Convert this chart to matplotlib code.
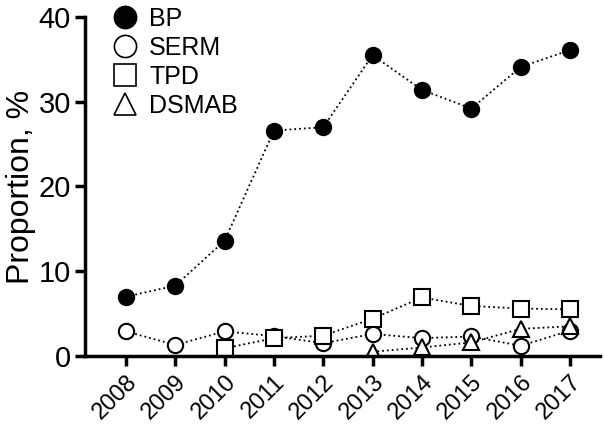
import matplotlib
matplotlib.use("Agg")
import matplotlib.pyplot as plt

plt.rcParams['font.family'] = ['Liberation Sans', 'DejaVu Sans']

years = [2008, 2009, 2010, 2011, 2012, 2013, 2014, 2015, 2016, 2017]
bp = [7.0, 8.3, 13.6, 26.6, 27.0, 35.5, 31.4, 29.2, 34.1, 36.1]
serm = [2.9, 1.3, 2.9, 2.35, 1.5, 2.6, 2.1, 2.3, 1.2, 3.0]
tpd_years = [2010, 2011, 2012, 2013, 2014, 2015, 2016, 2017]
tpd = [0.9, 2.1, 2.4, 4.4, 6.9, 5.9, 5.6, 5.5]
dsmab_years = [2013, 2014, 2015, 2016, 2017]
dsmab = [0.5, 1.0, 1.6, 3.2, 3.5]

fig = plt.figure(figsize=(6.04, 4.32), dpi=100)
ax = fig.add_axes([0.1407, 0.176, 0.852, 0.7846])

line_kw = dict(color='black', linestyle=':', linewidth=1.3, markersize=11,
               markeredgewidth=1.5, markeredgecolor='black')
ax.plot(years, bp, marker='o', markerfacecolor='black', label='BP', **line_kw)
ax.plot(years, serm, marker='o', markerfacecolor='white', label='SERM', **line_kw)
ax.plot(tpd_years, tpd, marker='s', markerfacecolor='white', label='TPD', **line_kw)
ax.plot(dsmab_years, dsmab, marker='^', markerfacecolor='white', label='DSMAB', **line_kw)

ax.set_xlim(2007.17, 2017.6)
ax.set_ylim(0, 40)
ax.set_yticks([0, 10, 20, 30, 40])
ax.set_xticks(years)
ax.set_xticklabels([str(y) for y in years], rotation=45, ha='right',
                   rotation_mode='anchor', fontsize=17)
ax.tick_params(axis='y', labelsize=21, width=2.5, length=7, pad=3)
ax.tick_params(axis='x', width=2.5, length=7, pad=4)
ax.set_ylabel('Proportion, %', fontsize=23, labelpad=2)

for s in ['top', 'right']:
    ax.spines[s].set_visible(False)
for s in ['left', 'bottom']:
    ax.spines[s].set_linewidth(2.5)

ax.legend(loc='upper left', bbox_to_anchor=(0.035, 1.06), frameon=False,
          fontsize=18, markerscale=1.45, handlelength=1.0, handletextpad=0.45,
          labelspacing=0.2, borderaxespad=0.0)
for h in ax.get_legend().get_lines():
    h.set_linestyle('none')
    h.set_markeredgewidth(1.2)

fig.savefig('out.png', dpi=100)
